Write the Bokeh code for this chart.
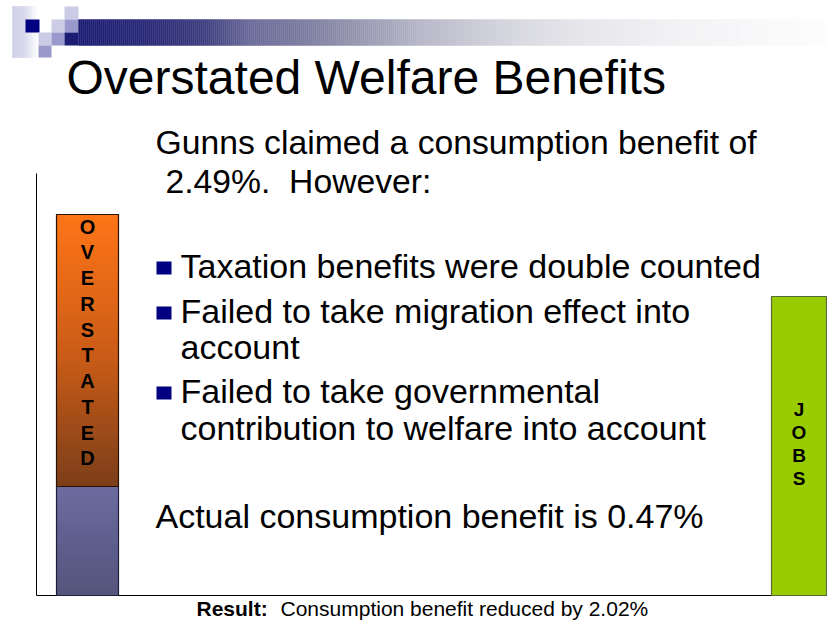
import numpy as np
from bokeh.plotting import figure
from bokeh.models import Range1d
from bokeh.core.properties import value
from bokeh.embed import file_html
from bokeh.resources import INLINE

# ---------------- data ----------------
left_parts = ["Actual benefit", "Overstated"]
left_heights = [109, 272]          # stacked segment heights
right_parts = ["Jobs"]
right_heights = [299]
left_label = "OVERSTATED"
right_label = "JOBS"

title_text = "Overstated Welfare Benefits"
intro_lines = ["Gunns claimed a consumption benefit of", "2.49%.\u00a0 However:"]
bullet_lines = [
    ["Taxation benefits were double counted"],
    ["Failed to take migration effect into", "account"],
    ["Failed to take governmental", "contribution to welfare into account"],
]
conclusion_text = "Actual consumption benefit is 0.47%"
result_bold = "Result:"
result_rest = "Consumption benefit reduced by 2.02%"

FONT = "Liberation Sans"
BASE = 595  # baseline pixel row
W, H = 827, 623


def Y(py):
    return BASE - py


p = figure(width=W, height=H, output_backend="svg", toolbar_location=None,
           x_range=Range1d(0, W), y_range=Range1d(Y(H), Y(0)),
           min_border=0, outline_line_color=None, background_fill_color="white")
p.axis.visible = False
p.grid.visible = False


def lerp_colors(stops, xs):
    sx = [s[0] for s in stops]
    out = []
    for x in xs:
        r = np.interp(x, sx, [s[1][0] for s in stops])
        g = np.interp(x, sx, [s[1][1] for s in stops])
        b = np.interp(x, sx, [s[1][2] for s in stops])
        out.append("#%02x%02x%02x" % (int(r), int(g), int(b)))
    return out

# ---------------- header decoration ----------------
gx = np.arange(12, 38, 1.0)
gc = lerp_colors([(12, (204, 204, 230)), (24, (214, 214, 236)), (37, (255, 255, 255))], gx)
p.quad(left=gx, right=gx + 1, top=Y(6), bottom=Y(57), fill_color=gc, line_color=gc, line_width=0.4)

blocks = [
    (25, 39, 19, 32, "#000080"),
    (38, 51, 32, 45, "#CCCCE6"),
    (38, 51, 45, 57, "#9999CC"),
    (51, 64, 19, 32, "#CCCCE6"),
    (51, 64, 32, 45, "#9999CC"),
    (64, 78, 6, 19, "#CCCCE6"),
    (64, 78, 19, 32, "#9999CC"),
    (64, 78, 32, 45, "#1C1C74"),
]
p.quad(left=[b[0] for b in blocks], right=[b[1] for b in blocks],
       top=[Y(b[2]) for b in blocks], bottom=[Y(b[3]) for b in blocks],
       fill_color=[b[4] for b in blocks], line_color=None)

bx = np.arange(78, W, 2.0)
bc = lerp_colors([(78, (28, 28, 116)), (150, (42, 42, 120)), (200, (60, 60, 126)),
                  (250, (107, 107, 155)), (300, (122, 122, 158)), (350, (146, 146, 173)),
                  (417, (181, 181, 199)), (483, (205, 205, 217)), (517, (216, 216, 224)),
                  (583, (230, 230, 235)), (683, (243, 243, 246)), (835, (254, 254, 254))], bx)
p.quad(left=bx, right=bx + 2, top=Y(19), bottom=Y(45), fill_color=bc, line_color=bc, line_width=0.4)

# ---------------- axis lines ----------------
p.segment(x0=[36, 36], y0=[Y(173), 0], x1=[36, W], y1=[0, 0], line_color="black", line_width=1)

# ---------------- bars ----------------
LX, LW = 87, 62
RX, RW = 798.5, 55
bottoms = np.concatenate([[0], np.cumsum(left_heights)[:-1]])
tops = np.cumsum(left_heights)

ys = np.arange(bottoms[0], tops[0], 1.0)
cs = lerp_colors([(bottoms[0], (68, 68, 112)), (tops[0], (94, 94, 152))], ys)
p.quad(left=LX - LW / 2, right=LX + LW / 2, bottom=ys, top=ys + 1, fill_color=cs, line_color=cs, line_width=0.4)
ys = np.arange(bottoms[1], tops[1], 1.0)
cs = lerp_colors([(bottoms[1], (112, 44, 4)), (bottoms[1] + 0.5 * left_heights[1], (200, 78, 0)),
                  (tops[1], (255, 104, 0))], ys)
p.quad(left=LX - LW / 2, right=LX + LW / 2, bottom=ys, top=ys + 1, fill_color=cs, line_color=cs, line_width=0.4)
p.vbar(x=[LX, LX], width=LW, bottom=bottoms, top=tops, fill_alpha=0,
       line_color=["#1e1e3a", "#2a1200"], line_width=1.2)

p.vbar(x=[RX], width=RW, bottom=[0], top=right_heights, fill_color="#99CC00",
       line_color="#5a6a3a", line_width=1.2)

p.text(x=[LX], y=[Y(342)], text=["\n".join(left_label)], text_align="center", text_baseline="middle",
       text_font=value(FONT), text_font_style="bold", text_font_size="20px", text_line_height=1.17,
       text_color="black")
p.text(x=[RX], y=[Y(443.5)], text=["\n".join(right_label)], text_align="center", text_baseline="middle",
       text_font=value(FONT), text_font_style="bold", text_font_size="19px", text_line_height=1.095,
       text_color="black")

# ---------------- texts (y = vertical centre of capitals) ----------------
def lab(x, pyc, txt, size, bold=False):
    p.text(x=[x], y=[Y(pyc)], text=[txt], text_font=value(FONT), text_font_size=size,
           text_font_style="bold" if bold else "normal", text_color="black",
           text_baseline="middle", text_align="left")

lab(66, 77, title_text, "48px")
lab(155, 141, intro_lines[0], "33.7px")
lab(165, 180, intro_lines[1], "33.7px")

bullet_centres = [[265], [310, 346], [390, 427]]
sq = []
for lines, cens in zip(bullet_lines, bullet_centres):
    for t, c in zip(lines, cens):
        lab(180, c, t, "34px")
    sq.append(cens[0])
p.quad(left=156, right=171, top=[Y(c - 4) for c in sq], bottom=[Y(c + 9) for c in sq],
       fill_color="#000080", line_color=None)

lab(155, 515, conclusion_text, "34px")
lab(196, 608, result_bold, "21px", bold=True)
lab(280, 608, result_rest, "21px")

open("out.html", "w").write(file_html(p, INLINE))
